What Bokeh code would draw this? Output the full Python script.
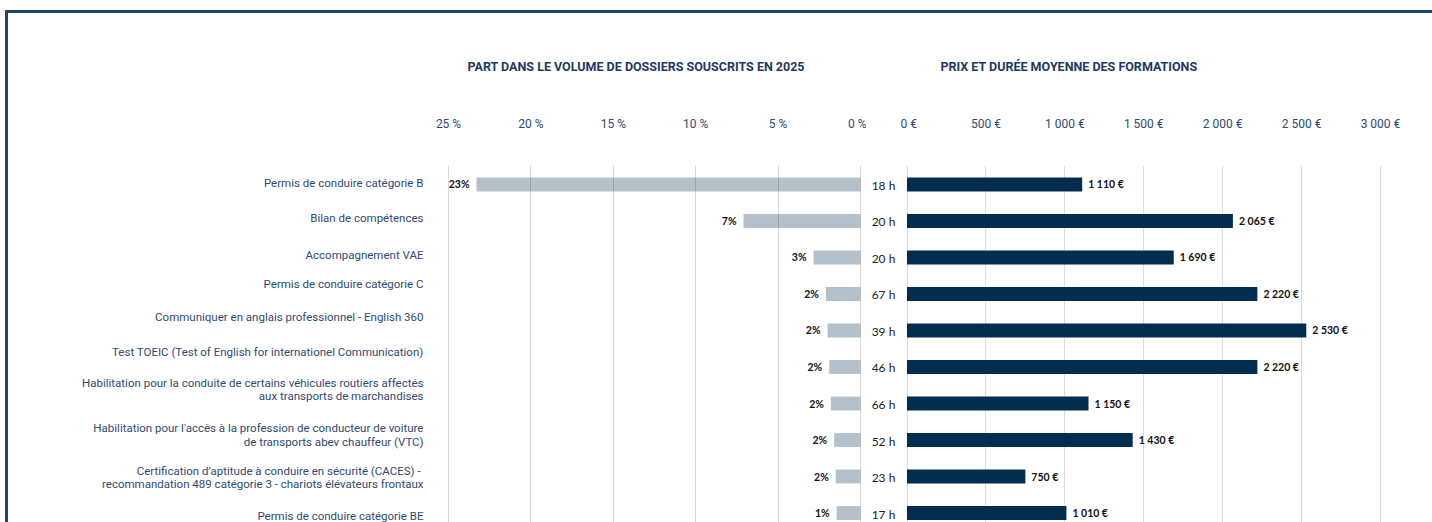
from bokeh.plotting import figure
from bokeh.models import Range1d, FixedTicker, ColumnDataSource
from bokeh.layouts import row
from bokeh.core.properties import value
from bokeh.embed import file_html
from bokeh.resources import INLINE

# ---------------- data ----------------
categories = [
    "Permis de conduire catégorie B",
    "Bilan de compétences",
    "Accompagnement VAE",
    "Permis de conduire catégorie C",
    "Communiquer en anglais professionnel - English 360",
    "Test TOEIC (Test of English for internationel Communication)",
    "Habilitation pour la conduite de certains véhicules routiers affectés\naux transports de marchandises",
    "Habilitation pour l'accès à la profession de conducteur de voiture\nde transports abev chauffeur (VTC)",
    "Certification d’aptitude à conduire en sécurité (CACES)  -\nrecommandation 489 catégorie 3 - chariots élévateurs frontaux",
    "Permis de conduire catégorie BE",
]
share_pct = [23.3, 7.1, 2.85, 2.1, 2.0, 1.9, 1.8, 1.6, 1.5, 1.45]
hours = [18, 20, 20, 67, 39, 46, 66, 52, 23, 17]
prices = [1110, 2065, 1690, 2220, 2530, 2220, 1150, 1430, 750, 1010]

pct_ticks = [0, 5, 10, 15, 20, 25]
price_ticks = [0, 500, 1000, 1500, 2000, 2500, 3000]

title_left = "PART DANS LE VOLUME DE DOSSIERS SOUSCRITS EN 2025"
title_right = "PRIX ET DURÉE MOYENNE DES FORMATIONS"

# ---------------- styles / layout ----------------
NARROW = "Roboto"
VALFONT = "Lato"
TXT = "#2f4a72"
TITLE_C = "#1e3a5f"
NAVY = "#022d4f"
GREY = "#b4c0ca"
label_dy = [-1, -3, -2, -10, -13, -15, -14, -5, 1, 3]  # px offsets of category labels

H = 509
TOP = 152
y_rng = Range1d(start=9.26, end=-0.52)
idx = list(range(len(categories)))


def fmt_thousands(v):
    return f"{v:,}".replace(",", " ")


def base_fig(width, x_range, axis_above=True):
    p = figure(width=width, height=H, x_range=x_range, y_range=y_rng,
               output_backend="svg", toolbar_location=None,
               x_axis_location="above" if axis_above else None,
               y_axis_location=None,
               min_border_left=0, min_border_right=0,
               min_border_top=TOP, min_border_bottom=0)
    p.outline_line_color = None
    p.background_fill_color = "white"
    p.border_fill_color = "white"
    p.ygrid.grid_line_color = None
    if axis_above:
        ax = p.xaxis[0]
        ax.axis_line_color = None
        ax.major_tick_line_color = None
        ax.minor_tick_line_color = None
        ax.major_label_standoff = 29
        ax.major_label_text_font = NARROW
        ax.major_label_text_font_size = "12px"
        ax.major_label_text_color = TXT
    return p


def style_title(p, text, offset):
    p.title.text = text
    p.title.align = "left"
    p.title.offset = offset
    p.title.standoff = 79
    p.title.text_font = NARROW
    p.title.text_font_size = "12.5px"
    p.title.text_font_style = "bold"
    p.title.text_color = TITLE_C


# ---------------- left: share ----------------
pA = base_fig(858, Range1d(start=51.70, end=-0.364))
pA.xaxis.ticker = FixedTicker(ticks=pct_ticks)
pA.xaxis.major_label_overrides = {t: f"{t} %" for t in pct_ticks}
pA.xgrid.ticker = FixedTicker(ticks=pct_ticks)
pA.xgrid.grid_line_color = "black"
pA.xgrid.grid_line_alpha = 0.14
pA.xgrid.level = "overlay"
style_title(pA, title_left, 459)

srcA = ColumnDataSource(dict(
    y=idx, v=share_pct, lab=[f"{v:.0f}%" for v in share_pct],
    cat=categories, dy=label_dy,
))
pA.hbar(y="y", left=0, right="v", height=0.38, source=srcA,
        fill_color=GREY, line_color=None)
pA.text(x="v", y="y", text="lab", source=srcA, x_offset=-7,
        text_align="right", text_baseline="middle",
        text_font=value(VALFONT), text_font_style="bold",
        text_font_size="10.5px", text_color="#111111")
pA.text(x=26.52, y="y", text="cat", source=srcA, y_offset="dy",
        text_align="right", text_baseline="middle", text_line_height=0.95,
        text_font=value(NARROW), text_font_size="11.5px", text_color=TXT)

# ---------------- middle: hours ----------------
pB = base_fig(34, Range1d(start=0, end=1), axis_above=False)
pB.xgrid.grid_line_color = None
srcB = ColumnDataSource(dict(y=idx, lab=[f"{h} h" for h in hours]))
pB.text(x=0.5, y="y", text="lab", source=srcB, y_offset=1,
        text_align="center", text_baseline="middle",
        text_font=value(VALFONT), text_font_size="12px", text_color="#222222")

# ---------------- right: prices ----------------
pC = base_fig(532, Range1d(start=-41.2, end=3329.6))
pC.xaxis.ticker = FixedTicker(ticks=price_ticks)
pC.xaxis.major_label_overrides = {t: f"{fmt_thousands(t)} €" for t in price_ticks}
pC.xgrid.ticker = FixedTicker(ticks=price_ticks)
pC.xgrid.grid_line_color = "#dcdcdc"
style_title(pC, title_right, 40)

srcC = ColumnDataSource(dict(y=idx, v=prices,
                             lab=[f"{fmt_thousands(v)} €" for v in prices]))
pC.hbar(y="y", left=0, right="v", height=0.38, source=srcC,
        fill_color=NAVY, line_color=None)
pC.text(x="v", y="y", text="lab", source=srcC, x_offset=6,
        text_align="left", text_baseline="middle",
        text_font=value(VALFONT), text_font_style="bold",
        text_font_size="10.5px", text_color="#111111")

layout = row(pA, pB, pC, spacing=0,
             styles={"border-top": "3px solid #1b4470",
                     "border-left": "3px solid #1b4470",
                     "margin-left": "5px", "margin-top": "10px"})

open("out.html", "w").write(file_html(layout, INLINE))
